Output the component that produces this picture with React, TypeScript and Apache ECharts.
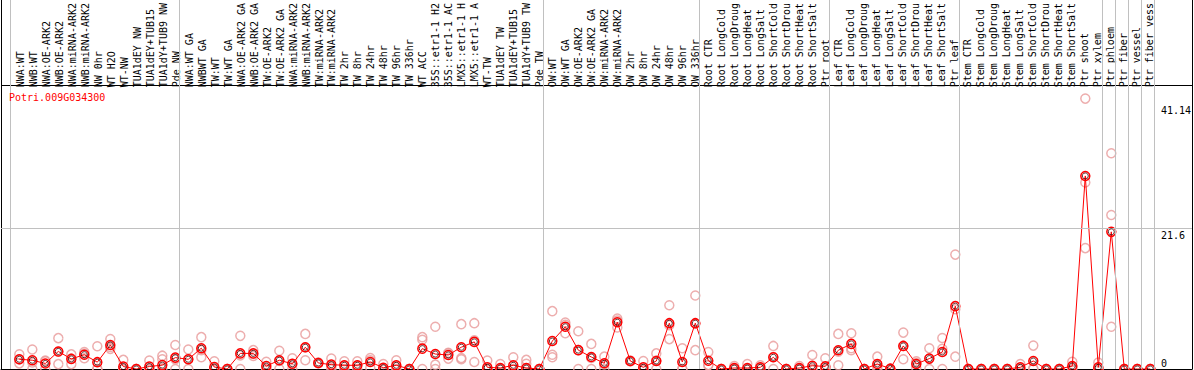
import React, { useEffect, useRef } from "react";
import * as echarts from "echarts";

const geneId = "Potri.009G034300";

const groupSizes = [13, 28, 12, 10, 10, 11, 1, 1, 1, 1];

const categories = [
  "NWA:WT", "NWB:WT", "NWA:OE-ARK2", "NWB:OE-ARK2", "NWA:miRNA-ARK2", "NWB:miRNA-ARK2", "NW 0hr", "WT H2O", "WT-NW", "TUA1dEY NW", "TUA1dEY+TUB15", "TUA1dY+TUB9 NW", "Pde NW",
  "NWA:WT GA", "NWBWT GA", "TW:WT", "TW:WT GA", "NWA:OE-ARK2 GA", "NWB:OE-ARK2 GA", "TW:OE-ARK2", "TW:OE-ARK2 GA", "NWA:miRNA-ARK2", "NWB:miRNA-ARK2", "TW:miRNA-ARK2", "TW:miRNA-ARK2", "TW 2hr", "TW 8hr", "TW 24hr", "TW 48hr", "TW 96hr", "TW 336hr", "WT ACC", "35S::etr1-1 H2", "35S::etr1-1 AC", "LMX5::etr1-1 H", "LMX5::etr1-1 A", "WT-TW", "TUA1dEY TW", "TUA1dEY+TUB15", "TUA1dY+TUB9 TW", "Pde TW",
  "OW:WT", "OW:WT GA", "OW:OE-ARK2", "OW:OE-ARK2 GA", "OW:miRNA-ARK2", "OW:miRNA-ARK2", "OW 2hr", "OW 8hr", "OW 24hr", "OW 48hr", "OW 96hr", "OW 336hr",
  "Root CTR", "Root LongCold", "Root LongDroug", "Root LongHeat", "Root LongSalt", "Root ShortCold", "Root ShortDrou", "Root ShortHeat", "Root ShortSalt", "Ptr root",
  "Leaf CTR", "Leaf LongCold", "Leaf LongDroug", "Leaf LongHeat", "Leaf LongSalt", "Leaf ShortCold", "Leaf ShortDrou", "Leaf ShortHeat", "Leaf ShortSalt", "Ptr leaf",
  "Stem CTR", "Stem LongCold", "Stem LongDroug", "Stem LongHeat", "Stem LongSalt", "Stem ShortCold", "Stem ShortDrou", "Stem ShortHeat", "Stem ShortSalt", "Ptr shoot", "Ptr xylem",
  "Ptr phloem", "Ptr fiber", "Ptr vessel", "Ptr fiber vess",
];

const means = [
  1.5, 1.35, 0.85, 2.7, 1.55, 2.2, 1.05, 3.7, 0.38, 0, 0.38, 0.6, 1.75,
  1.5, 3.2, 0.3, 0, 2.4, 2.4, 0.45, 1.35, 0.8, 3.35, 0.93, 0.67, 0.57, 0.57, 1.08, 0.2, 0.57, 0, 3.13, 2.3, 2.16, 3.35, 4.17, 0.26, 0.15, 0.57, 0.15, 0,
  4.3, 6.5, 2.9, 1.85, 0.88, 7.2, 1.23, 0.26, 1.23, 7.05, 1.08, 7.05,
  1.28, 0, 0.15, 0.15, 0.26, 1.8, 0, 0.15, 0.5, 0.4,
  2.88, 3.86, 0, 0.77, 0.05, 3.55, 0.77, 1.6, 2.62, 9.67,
  0, 0, 0, 0, 0.26, 1.23, 0, 0, 0.46, 29.7, 0.26,
  21.1, 0, 0, 0,
];

const rep1 = [
  2.26, 3.0, 1.3, 4.75, 2.25, 2.35, 3.5, 4.6, 1.4, 0, 1.3, 2.05, 3.7,
  3.0, 4.9, 1.2, 0, 5.1, 2.9, 1.1, 2.8, 1.65, 5.4, 1.0, 1.6, 1.2, 1.2, 1.7, 0.77, 1.35, 0, 4.9, 6.5, 2.5, 6.9, 7.05, 1.3, 0.77, 1.8, 1.4, 0,
  8.9, 7.15, 5.8, 3.86, 1.9, 7.76, 1.2, 1.23, 2.4, 9.8, 3.2, 11.3,
  2.6, 0, 0.46, 0.77, 0.57, 3.55, 0, 0.46, 2.16, 1.65,
  5.4, 5.5, 0, 1.9, 0, 5.6, 1.2, 3.2, 4.77, 17.6,
  0, 0, 0, 0, 0.77, 3.6, 0, 0, 1.1, 41.6, 1.0,
  33.2, 0, 0, 0,
];

const rep2 = [
  0.87, 0, 1.2, 0.75, 0.75, 1.65, 0, 3.4, 0, 0, 0, 1.5, 0,
  0, 1.8, 0, 0, 0, 2.0, 0, 0, 0.75, 1.34, 0.9, 0, 0.5, 0.5, 1.35, 0, 0.35, 0, 4.5, 0.67, 1.6, 1.7, 1.08, 0, 0, 0, 0.8, 0,
  2.2, 6.8, 0, 0, 0, 7.45, 1.2, 0, 0, 4.6, 0, 2.9,
  0.6, 0, 0, 0, 0, 0, 0, 0, 0, 0,
  0.57, 2.9, 0, 0.4, 0, 1.5, 0.9, 0, 3.1, 9.2,
  0, 0, 0, 0, 0, 0, 0, 0, 0.3, 28.7, 0,
  23.7, 0, 0, 0,
];

const rep3 = [
  1.45, 1.0, 0, 2.65, 1.6, 2.6, 0, 3.1, 0, 0, 0, 0, 1.5,
  1.5, 2.9, 0, 0, 2.1, 2.3, 0, 1.25, 0, 3.3, 0.9, 0.4, 0, 0, 0.2, 0, 0, 0, 0, 0, 2.4, 1.5, 4.4, 0, 0, 0, 0, 0,
  1.8, 5.5, 2.9, 1.7, 0.7, 6.4, 1.3, 0, 1.3, 6.75, 0, 6.95,
  0.6, 0, 0, 0, 0.2, 1.85, 0, 0, 0, 0,
  2.67, 3.2, 0, 0, 0, 3.55, 0.2, 1.6, 0, 1.9,
  0, 0, 0, 0, 0, 0.1, 0, 0, 0, 18.6, 0,
  6.5, 0, 0, 0,
];

const yLabelValues = [21.6, 41.14];
const yZeroValue = [0];
const gridLineValue = 21.6;

const X_MIN = -1.408;
const X_MAX = 90.208;
const Y_MAX = 56.77;
const BOUNDARY_SHIFT = 0.715;

export default function App() {
  const ref = useRef<HTMLDivElement>(null);

  useEffect(() => {
    if (!ref.current) return;
    const chart = echarts.init(ref.current, null, { renderer: "svg" });
    const font = "'DejaVu Sans Mono', monospace";

    const boundaries: number[] = [0];
    let acc = 0;
    for (const g of groupSizes) {
      acc += g;
      boundaries.push(acc);
    }

    const repData: number[][] = [];
    categories.forEach((_, i) => {
      [rep1, rep2, rep3].forEach((r) => repData.push([i, r[i]]));
    });
    const meanData = means.map((v, i) => [i, v]);

    const frameAxis = {
      axisLine: { show: true, onZero: false, lineStyle: { color: "#000", width: 1 } },
      axisTick: { show: false },
      axisLabel: { show: false },
      splitLine: { show: false },
    };

    const labelAxisBase = {
      type: "value",
      gridIndex: 1,
      min: 0,
      max: Y_MAX,
      position: "right",
      axisLine: { show: false },
      axisTick: { show: false },
      splitLine: { show: false },
    };

    chart.setOption({
      animation: false,
      title: {
        text: geneId,
        left: 9,
        top: 92,
        padding: 0,
        textStyle: { color: "#ff0000", fontSize: 10, fontWeight: "normal", fontFamily: font },
      },
      grid: [
        { left: 1, right: 2, top: 0, bottom: 1 },
        { left: 14.1, right: 35.9, top: 0, bottom: 1 },
      ],
      xAxis: [
        { type: "value", gridIndex: 0, min: X_MIN, max: X_MAX, position: "bottom", ...frameAxis },
        {
          type: "category",
          gridIndex: 1,
          data: categories,
          position: "top",
          offset: -85,
          boundaryGap: true,
          axisLine: { show: false },
          axisTick: { show: false },
          splitLine: { show: false },
          axisLabel: { interval: 0, rotate: 90, margin: 3, fontSize: 10, fontFamily: font, color: "#000" },
        },
      ],
      yAxis: [
        { type: "value", gridIndex: 0, min: 0, max: Y_MAX, position: "left", ...frameAxis },
        { type: "value", gridIndex: 0, min: 0, max: Y_MAX, position: "right", ...frameAxis },
        {
          ...labelAxisBase,
          axisLabel: {
            customValues: yLabelValues,
            verticalAlign: "top",
            align: "left",
            margin: 5,
            fontSize: 10,
            lineHeight: 10,
            fontFamily: font,
            color: "#000",
          },
        },
        {
          ...labelAxisBase,
          axisLabel: {
            customValues: yZeroValue,
            verticalAlign: "bottom",
            align: "left",
            margin: 5,
            fontSize: 10,
            lineHeight: 12,
            fontFamily: font,
            color: "#000",
          },
        },
      ],
      graphic: [
        {
          type: "line",
          silent: true,
          shape: { x1: 1, y1: 85.5, x2: 1192, y2: 85.5 },
          style: { stroke: "#000", lineWidth: 1 },
        },
      ],
      series: [
        {
          type: "line",
          xAxisIndex: 0,
          yAxisIndex: 0,
          data: meanData,
          symbol: "none",
          lineStyle: { opacity: 0 },
          silent: true,
          z: 1,
          markLine: {
            silent: true,
            symbol: ["none", "none"],
            label: { show: false },
            emphasis: { disabled: true },
            lineStyle: { color: "#c0c0c0", type: "solid", width: 1 },
            data: [
              ...boundaries.map((b) => ({ xAxis: b - BOUNDARY_SHIFT })),
              { yAxis: gridLineValue },
            ],
          },
        },
        {
          type: "scatter",
          xAxisIndex: 0,
          yAxisIndex: 0,
          data: repData,
          symbol: "circle",
          symbolSize: 9,
          silent: true,
          itemStyle: { color: "rgba(0,0,0,0)", borderColor: "#e89a9a", borderWidth: 1.5 },
          z: 3,
        },
        {
          type: "line",
          xAxisIndex: 0,
          yAxisIndex: 0,
          data: meanData,
          symbol: "circle",
          symbolSize: 9,
          showAllSymbol: true,
          silent: true,
          lineStyle: { color: "#ff0000", width: 1 },
          itemStyle: { color: "rgba(0,0,0,0)", borderColor: "#ff0000", borderWidth: 1.5 },
          z: 4,
        },
        {
          type: "scatter",
          xAxisIndex: 0,
          yAxisIndex: 0,
          data: meanData,
          symbol: "circle",
          symbolSize: 6,
          silent: true,
          itemStyle: { color: "rgba(0,0,0,0)", borderColor: "#330000", borderWidth: 1 },
          z: 5,
        },
      ],
    });

    return () => chart.dispose();
  }, []);

  return (
    <div
      ref={ref}
      style={{ position: "absolute", left: 0, top: 0, width: 1194, height: 370 }}
    />
  );
}
